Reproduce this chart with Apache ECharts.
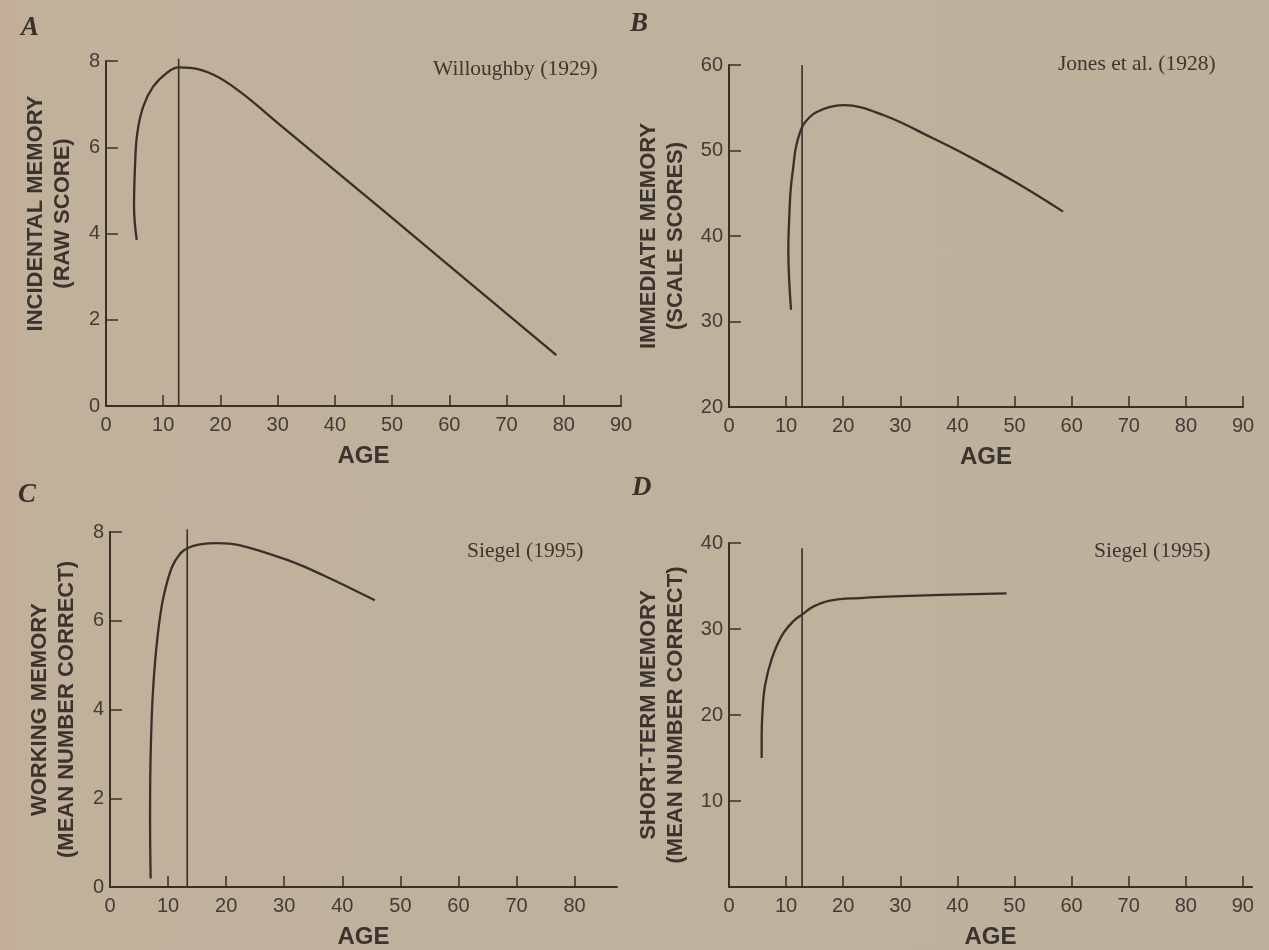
<!DOCTYPE html>
<html>
<head>
<meta charset="utf-8">
<script src="https://cdn.jsdelivr.net/npm/echarts@6/dist/echarts.min.js"></script>
<style>
  html, body { margin: 0; padding: 0; }
  body {
    width: 1269px; height: 950px; overflow: hidden;
    background: linear-gradient(90deg, #c4ad96 0px, #c0b19b 28px, #beb29c 50%, #bcb19c 100%);
  }
  #chart { width: 1269px; height: 950px; }
</style>
</head>
<body>
<div id="chart"></div>
<script>
// Panel A: incidental memory (raw score) by age
const ageA   = [5.37, 4.9, 5.07, 5.47, 6.52, 8.27, 10.6, 12.7, 14.7, 18.8, 23.4, 30.4, 50, 78.7];
const scoreA = [3.85, 4.62, 5.55, 6.33, 6.95, 7.41, 7.72, 7.85, 7.84, 7.68, 7.29, 6.52, 4.36, 1.18];

// Panel B: immediate memory (scale scores) by age
const ageB   = [10.86, 10.39, 10.56, 10.8, 11.26, 11.73, 12.84, 14.2, 15.36, 17.7, 20.0, 27.0, 35.8, 41.6, 50.4, 58.5];
const scoreB = [31.37, 38.4, 42.3, 45.4, 48.1, 50.4, 52.8, 53.95, 54.5, 55.1, 55.3, 54.15, 51.4, 49.45, 46.2, 42.85];

// Panel C: working memory (mean number correct) by age
const ageC   = [7.0, 6.9, 6.92, 7.08, 7.35, 7.75, 8.33, 9.2, 10.64, 12.07, 13.4, 15.5, 18.4, 22.4, 30.5, 36.8, 45.6];
const scoreC = [0.19, 1.5, 2.3, 3.4, 4.3, 5.05, 5.8, 6.53, 7.2, 7.51, 7.64, 7.72, 7.75, 7.7, 7.37, 7.02, 6.46];

// Panel D: short-term memory (mean number correct) by age
const ageD   = [5.72, 5.72, 5.86, 6.3, 7.47, 9.23, 11.26, 12.84, 14.76, 17.7, 22.9, 31.7, 48.6];
const scoreD = [15.0, 17.5, 20.3, 23.4, 26.5, 29.2, 30.9, 31.7, 32.6, 33.3, 33.6, 33.85, 34.15];

// Vertical reference line in each panel (age, lower end, upper end)
const refAge    = [12.7, 12.8, 13.3, 12.8];
const refBottom = [0, 20, 0, 0];
const refTop    = [8.05, 60, 8.06, 39.4];

// Axis ranges and tick labels
const xMax     = [90, 90, 87.3, 91.6];
const yMin     = [0, 20, 0, 0];
const yMax     = [8, 60, 8, 40];
const xLabels  = [
  [0, 10, 20, 30, 40, 50, 60, 70, 80, 90],
  [0, 10, 20, 30, 40, 50, 60, 70, 80, 90],
  [0, 10, 20, 30, 40, 50, 60, 70, 80],
  [0, 10, 20, 30, 40, 50, 60, 70, 80, 90]
];
const xTicks   = [
  [10, 20, 30, 40, 50, 60, 70, 80, 90],
  [10, 20, 30, 40, 50, 60, 70, 80, 90],
  [10, 20, 30, 40, 50, 60, 70, 80],
  [10, 20, 30, 40, 50, 60, 70, 80, 90]
];
const yLabels  = [[0, 2, 4, 6, 8], [20, 30, 40, 50, 60], [0, 2, 4, 6, 8], [10, 20, 30, 40]];
const yTicks   = [[2, 4, 6, 8], [30, 40, 50, 60], [2, 4, 6, 8], [10, 20, 30, 40]];

// Text
const panelLetters = ['A', 'B', 'C', 'D'];
const sources      = ['Willoughby (1929)', 'Jones et al. (1928)', 'Siegel (1995)', 'Siegel (1995)'];
const yTitles      = [
  'INCIDENTAL MEMORY\n(RAW SCORE)',
  'IMMEDIATE MEMORY\n(SCALE SCORES)',
  'WORKING MEMORY\n(MEAN NUMBER CORRECT)',
  'SHORT-TERM MEMORY\n(MEAN NUMBER CORRECT)'
];
const xTitle = 'AGE';

const ages   = [ageA, ageB, ageC, ageD];
const scores = [scoreA, scoreB, scoreC, scoreD];

const INK = '#3a2f2b';
const LABEL_INK = '#433b37';

const gridBoxes = [
  { left: 106, top: 61,  width: 515, height: 345 },
  { left: 729, top: 65,  width: 514, height: 342 },
  { left: 110, top: 532, width: 507, height: 355 },
  { left: 729, top: 543, width: 523, height: 344 }
];
const nameGaps = [30, 40, 30, 40];
const namePads = [[0, 0, 0, 40], [0, 0, 0, 0], [0, 0, 0, 0], [0, 0, 0, 0]];

const letterPos = [ { left: 21, top: 15 }, { left: 630, top: 11 }, { left: 18, top: 482 }, { left: 632, top: 475 } ];
const sourcePos = [ { left: 433, top: 58 }, { left: 1058, top: 53 }, { left: 467, top: 540 }, { left: 1094, top: 540 } ];

const titles = [];
panelLetters.forEach((t, i) => {
  titles.push({
    text: t, left: letterPos[i].left, top: letterPos[i].top, padding: 0,
    textStyle: { fontFamily: 'Liberation Serif', fontStyle: 'italic', fontWeight: 'bold', fontSize: 27, color: INK }
  });
});
sources.forEach((t, i) => {
  titles.push({
    text: t, left: sourcePos[i].left, top: sourcePos[i].top, padding: 0,
    textStyle: { fontFamily: 'Liberation Serif', fontWeight: 'normal', fontSize: 21.5, color: '#3f3531' }
  });
});

const grid = gridBoxes.map(b => Object.assign({ outerBoundsMode: 'none', containLabel: false }, b));

const xAxis = gridBoxes.map((b, i) => ({
  type: 'value', gridIndex: i, min: 0, max: xMax[i],
  name: xTitle, nameLocation: 'middle', nameGap: 38,
  nameTextStyle: { fontFamily: 'Liberation Sans', fontWeight: 'bold', fontSize: 24, color: '#3b332f' },
  axisLine: { show: true, onZero: false, lineStyle: { color: INK, width: 2 } },
  axisTick: { show: true, inside: true, length: 11, customValues: xTicks[i], lineStyle: { color: INK, width: 1.5 } },
  axisLabel: { show: true, margin: 9, customValues: xLabels[i], fontFamily: 'Liberation Sans', fontSize: 20, color: LABEL_INK },
  splitLine: { show: false }
}));

const yAxis = gridBoxes.map((b, i) => ({
  type: 'value', gridIndex: i, min: yMin[i], max: yMax[i],
  name: yTitles[i], nameLocation: 'middle', nameGap: nameGaps[i], nameRotate: 90,
  nameTextStyle: { fontFamily: 'Liberation Sans', fontWeight: 'bold', fontSize: 22, lineHeight: 27, color: '#3b332f', align: 'center', padding: namePads[i] },
  axisLine: { show: true, onZero: false, lineStyle: { color: INK, width: 2 } },
  axisTick: { show: true, inside: true, length: 12, customValues: yTicks[i], lineStyle: { color: INK, width: 1.5 } },
  axisLabel: { show: true, margin: 6, customValues: yLabels[i], fontFamily: 'Liberation Sans', fontSize: 20, color: LABEL_INK },
  splitLine: { show: false }
}));

const series = [];
ages.forEach((a, i) => {
  series.push({
    type: 'line', xAxisIndex: i, yAxisIndex: i,
    data: a.map((x, k) => [x, scores[i][k]]),
    smooth: 0.4, symbol: 'none', clip: false,
    lineStyle: { color: INK, width: 2.3 }
  });
  series.push({
    type: 'line', xAxisIndex: i, yAxisIndex: i,
    data: [[refAge[i], refBottom[i]], [refAge[i], refTop[i]]],
    symbol: 'none', clip: false,
    lineStyle: { color: INK, width: 1.6 }
  });
});

const chart = echarts.init(document.getElementById('chart'), null, { renderer: 'canvas' });
chart.setOption({
  backgroundColor: 'transparent',
  animation: false,
  title: titles,
  grid: grid,
  xAxis: xAxis,
  yAxis: yAxis,
  series: series
});
</script>
</body>
</html>
